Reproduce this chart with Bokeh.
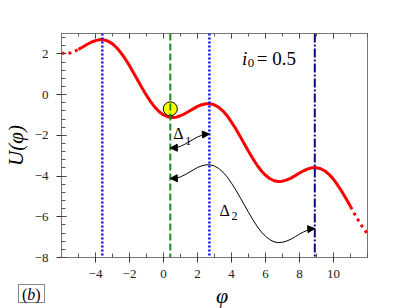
from bokeh.plotting import figure
from bokeh.models import Span, Label, Arrow, NormalHead, LinearAxis, FixedTicker, Range1d, Div
from bokeh.layouts import column
from bokeh.embed import file_html
from bokeh.resources import INLINE

# ---- data ----
phi = [-6.0, -5.75, -5.5, -5.25, -5.0, -4.75, -4.5, -4.25, -4.0, -3.75, -3.5, -3.25,
       -3.0, -2.75, -2.5, -2.25, -2.0, -1.75, -1.5, -1.25, -1.0, -0.75, -0.5, -0.25,
       0.0, 0.25, 0.5, 0.75, 1.0, 1.25, 1.5, 1.75, 2.0, 2.25, 2.5, 2.75,
       3.0, 3.25, 3.5, 3.75, 4.0, 4.25, 4.5, 4.75, 5.0, 5.25, 5.5, 5.75,
       6.0, 6.25, 6.5, 6.75, 7.0, 7.25, 7.5, 7.75, 8.0, 8.25, 8.5, 8.75,
       9.0, 9.25, 9.5, 9.75, 10.0, 10.25, 10.5, 10.75, 11.0, 11.25, 11.5, 11.75, 12.0]
U = [2.04, 2.01, 2.04, 2.11, 2.22, 2.34, 2.46, 2.57, 2.65, 2.70, 2.69, 2.62,
     2.49, 2.30, 2.05, 1.75, 1.42, 1.05, 0.68, 0.31, -0.04, -0.36, -0.63, -0.84,
     -1.00, -1.09, -1.13, -1.11, -1.04, -0.94, -0.82, -0.70, -0.58, -0.50, -0.45, -0.45,
     -0.51, -0.63, -0.81, -1.05, -1.35, -1.68, -2.04, -2.41, -2.78, -3.14, -3.46, -3.74,
     -3.96, -4.12, -4.23, -4.27, -4.25, -4.19, -4.10, -3.98, -3.85, -3.74, -3.65, -3.59,
     -3.59, -3.64, -3.75, -3.93, -4.16, -4.45, -4.77, -5.13, -5.50, -5.88, -6.23, -6.56, -6.84]
solid_from, solid_to = -5.0, 11.0

d1_phi = [0.4, 0.75, 1.0, 1.25, 1.5, 1.75, 2.0, 2.25, 2.5, 2.7]
d1_U = [-2.62, -2.61, -2.54, -2.44, -2.32, -2.20, -2.08, -2.00, -1.95, -1.94]

d2_phi = [0.4, 0.75, 1.0, 1.25, 1.5, 1.75, 2.0, 2.25, 2.5, 2.75, 3.0, 3.25, 3.5, 3.75,
          4.0, 4.25, 4.5, 4.75, 5.0, 5.25, 5.5, 5.75, 6.0, 6.25, 6.5, 6.75, 7.0, 7.25,
          7.5, 7.75, 8.0, 8.25, 8.5, 8.75, 8.9]
d2_U = [-4.12, -4.11, -4.04, -3.94, -3.82, -3.70, -3.58, -3.50, -3.45, -3.45, -3.51, -3.63,
        -3.81, -4.05, -4.35, -4.68, -5.04, -5.41, -5.78, -6.14, -6.46, -6.74, -6.96, -7.12,
        -7.23, -7.27, -7.25, -7.19, -7.10, -6.98, -6.85, -6.74, -6.65, -6.59, -6.58]

ball_phi = [0.4]
ball_U = [-0.70]

vline_left_max = -3.6
vline_min = 0.4
vline_max = 2.7
vline_next_max = 8.9

x_ticks = [-4, -2, 0, 2, 4, 6, 8, 10]
y_ticks = [-8, -6, -4, -2, 0, 2]
x_minor = [-6, -5, -4, -3, -2, -1, 0, 1, 2, 3, 4, 5, 6, 7, 8, 9, 10, 11, 12]
y_minor = [round(-8 + 0.4 * k, 1) for k in range(28)]

FONT = "Liberation Serif"

p = figure(width=391, height=284, output_backend="svg", toolbar_location=None,
           x_range=Range1d(-6, 12), y_range=Range1d(-8, 3),
           min_border_left=55, min_border_right=24, min_border_top=33, min_border_bottom=27)
p.background_fill_color = "white"
p.border_fill_color = "white"
p.outline_line_color = "#777777"
p.outline_line_width = 1
p.xgrid.visible = False
p.ygrid.visible = False

for ax, ticks, minor in ((p.xaxis[0], x_ticks, x_minor), (p.yaxis[0], y_ticks, y_minor)):
    ax.ticker = FixedTicker(ticks=ticks, minor_ticks=minor)
    ax.axis_line_color = "#777777"
    ax.major_tick_line_color = "#333333"
    ax.minor_tick_line_color = "#555555"
    ax.major_tick_in = 5
    ax.major_tick_out = 5
    ax.minor_tick_in = 4
    ax.minor_tick_out = 0
    ax.major_label_text_font = FONT
    ax.major_label_text_font_size = "13px"
    ax.major_label_text_color = "#222222"
    ax.major_label_standoff = 8
p.xaxis[0].major_label_standoff = 7

p.yaxis[0].axis_label = "U(φ)"
p.yaxis[0].axis_label_standoff = 4
p.yaxis[0].axis_label_text_font = FONT
p.yaxis[0].axis_label_text_font_style = "italic"
p.yaxis[0].axis_label_text_font_size = "21px"
p.yaxis[0].axis_label_text_color = "black"

top = LinearAxis(ticker=FixedTicker(ticks=x_ticks, minor_ticks=x_minor))
top.axis_line_color = "#777777"
top.major_tick_line_color = "#333333"
top.minor_tick_line_color = "#555555"
top.major_tick_in = 5
top.major_tick_out = 0
top.minor_tick_in = 3
top.minor_tick_out = 0
top.major_label_text_font_size = "0px"
top.major_label_text_alpha = 0
top.major_label_standoff = 0
p.add_layout(top, "above")

# vertical reference lines
p.add_layout(Span(location=vline_left_max, dimension="height", line_color="#1010ff",
                  line_width=2.5, line_dash="2 2"))
p.add_layout(Span(location=vline_max, dimension="height", line_color="#1010ff",
                  line_width=2.5, line_dash="2 2"))
p.add_layout(Span(location=vline_min, dimension="height", line_color="#1a8a1a",
                  line_width=2, line_dash="7 3"))
p.add_layout(Span(location=vline_next_max, dimension="height", line_color="#0a0a80",
                  line_width=2, line_dash="9 2 2 2"))

# potential curve
left_x = [x for x in phi if x <= solid_from]
left_y = [y for x, y in zip(phi, U) if x <= solid_from]
mid_x = [x for x in phi if solid_from <= x <= solid_to]
mid_y = [y for x, y in zip(phi, U) if solid_from <= x <= solid_to]
right_x = [x for x in phi if x >= solid_to]
right_y = [y for x, y in zip(phi, U) if x >= solid_to]
p.line(mid_x, mid_y, line_color="red", line_width=3)
p.line(left_x, left_y, line_color="red", line_width=3, line_dash="3 4")
p.line(right_x, right_y, line_color="red", line_width=3, line_dash="3 4")

# Delta arrows
p.line(d1_phi, d1_U, line_color="black", line_width=1)
p.line(d2_phi, d2_U, line_color="black", line_width=1)
for xs, ys in ((d1_phi, d1_U), (d2_phi, d2_U)):
    p.add_layout(Arrow(end=NormalHead(size=7, fill_color="black", line_color="black"),
                       x_start=xs[1], y_start=ys[1], x_end=xs[0], y_end=ys[0],
                       line_color="black", line_width=1))
    p.add_layout(Arrow(end=NormalHead(size=7, fill_color="black", line_color="black"),
                       x_start=xs[-2], y_start=ys[-2], x_end=xs[-1], y_end=ys[-1],
                       line_color="black", line_width=1))

# particle
p.scatter(ball_phi, ball_U, size=14, fill_color="yellow", line_color="black", line_width=1)

# texts
def lab(x, y, t, size, style="normal"):
    p.add_layout(Label(x=x, y=y, text=t, text_font=FONT, text_font_size=size,
                       text_font_style=style, text_color="black",
                       text_baseline="alphabetic", text_align="left"))

lab(4.62, 1.77, "i", "19px", "italic")
lab(4.96, 1.53, "0", "13px")
lab(5.48, 1.77, "= 0.5", "19px")
lab(0.58, -1.89, "Δ", "16px")
lab(1.28, -2.27, "1", "12px")
lab(3.3, -5.67, "Δ", "16px")
lab(4.0, -5.94, "2", "12px")

# strip under the plot: panel tag and x-axis label
strip_html = (
    "<div style=\"position:relative;width:391px;height:24px;"
    "font-family:'Liberation Serif',serif;color:black;\">"
    "<span style=\"position:absolute;left:18px;top:0px;height:19px;line-height:19px;"
    "border:1px solid #888;padding:0 3px;font-size:16px;background:white;\">(<i>b</i>)</span>"
    "<span style=\"position:absolute;left:216px;top:0px;line-height:23px;"
    "font-size:22px;font-style:italic;\">φ</span>"
    "</div>"
)
strip = Div(text=strip_html, width=391, height=24, margin=0)

layout = column(p, strip, spacing=0)
open("out.html", "w").write(file_html(layout, INLINE))
